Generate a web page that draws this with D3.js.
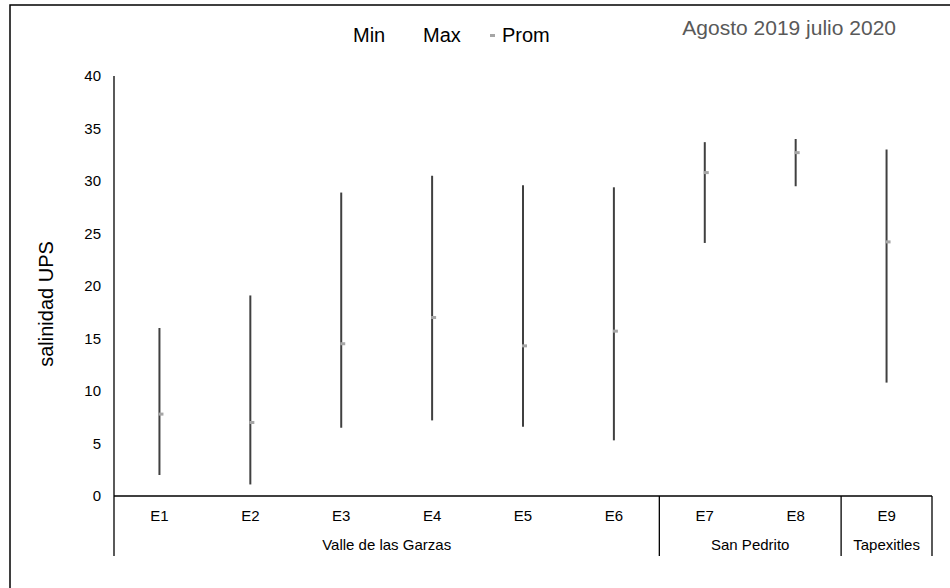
<!DOCTYPE html>
<html>
<head>
<meta charset="utf-8">
<script src="https://cdn.jsdelivr.net/npm/d3@7"></script>
<style>
  body { margin: 0; background: #fff; }
  text { font-family: "Liberation Sans", Arial, sans-serif; }
</style>
</head>
<body>
<script>
// Data
const stations = ["E1", "E2", "E3", "E4", "E5", "E6", "E7", "E8", "E9"];
const groups = ["Valle de las Garzas", "Valle de las Garzas", "Valle de las Garzas",
  "Valle de las Garzas", "Valle de las Garzas", "Valle de las Garzas",
  "San Pedrito", "San Pedrito", "Tapexitles"];
const minVals = [2.0, 1.1, 6.5, 7.2, 6.6, 5.3, 24.1, 29.5, 10.8];
const maxVals = [16.0, 19.1, 28.9, 30.5, 29.6, 29.4, 33.7, 34.0, 33.0];
const promVals = [7.8, 7.0, 14.5, 17.0, 14.3, 15.7, 30.8, 32.7, 24.2];
const yTicks = [0, 5, 10, 15, 20, 25, 30, 35, 40];

const W = 950, H = 588;
const x0 = 114, x1 = 932, yTop = 76, yBottom = 496;

const svg = d3.select("body").append("svg")
    .attr("width", W)
    .attr("height", H);

// outer frame (only left and top visible in the picture)
svg.append("rect")
    .attr("x", 10).attr("y", 5)
    .attr("width", W + 20).attr("height", H + 20)
    .attr("fill", "#fff")
    .attr("stroke", "#000")
    .attr("stroke-width", 1.5);

const x = d3.scaleBand().domain(stations).range([x0, x1]);
const y = d3.scaleLinear().domain([0, 40]).range([yBottom, yTop]);

// y axis
svg.append("line")
    .attr("x1", x0).attr("x2", x0)
    .attr("y1", yTop).attr("y2", yBottom)
    .attr("stroke", "#000").attr("stroke-width", 1.3);

svg.selectAll(".ytick")
    .data(yTicks)
    .enter().append("text")
    .attr("x", 101)
    .attr("y", d => y(d) + 5)
    .attr("text-anchor", "end")
    .attr("font-size", 15)
    .attr("fill", "#000")
    .text(d => d);

svg.append("text")
    .attr("transform", `translate(53,304) rotate(-90)`)
    .attr("text-anchor", "middle")
    .attr("font-size", 20)
    .text("salinidad UPS");

// x axis base line
svg.append("line")
    .attr("x1", x0).attr("x2", x1)
    .attr("y1", yBottom).attr("y2", yBottom)
    .attr("stroke", "#000").attr("stroke-width", 1.3);

// group separators
const groupNames = Array.from(new Set(groups));
const groupSpans = groupNames.map(g => {
  const idx = stations.filter((s, i) => groups[i] === g);
  return { name: g, start: x(idx[0]), end: x(idx[idx.length - 1]) + x.bandwidth() };
});
const seps = [x0].concat(groupSpans.map(g => g.end));
svg.selectAll(".sep")
    .data(seps)
    .enter().append("line")
    .attr("x1", d => d).attr("x2", d => d)
    .attr("y1", yBottom).attr("y2", 556)
    .attr("stroke", "#000").attr("stroke-width", 1.3);

svg.selectAll(".xlab")
    .data(stations)
    .enter().append("text")
    .attr("x", d => x(d) + x.bandwidth() / 2)
    .attr("y", 521)
    .attr("text-anchor", "middle")
    .attr("font-size", 15)
    .text(d => d);

svg.selectAll(".glab")
    .data(groupSpans)
    .enter().append("text")
    .attr("x", d => (d.start + d.end) / 2)
    .attr("y", 550)
    .attr("text-anchor", "middle")
    .attr("font-size", 15)
    .text(d => d.name);

// min-max lines
const cx = d => x(d) + x.bandwidth() / 2;
svg.selectAll(".range")
    .data(stations)
    .enter().append("line")
    .attr("x1", d => cx(d)).attr("x2", d => cx(d))
    .attr("y1", (d, i) => y(minVals[i]))
    .attr("y2", (d, i) => y(maxVals[i]))
    .attr("stroke", "#404040")
    .attr("stroke-width", 2);

// average markers
svg.selectAll(".prom")
    .data(stations)
    .enter().append("rect")
    .attr("x", d => cx(d) - 1)
    .attr("y", (d, i) => y(promVals[i]) - 1.5)
    .attr("width", 5).attr("height", 3)
    .attr("fill", "#a6a6a6");

// legend
const leg = svg.append("g").attr("font-size", 20);
leg.append("text").attr("x", 353).attr("y", 42).text("Min");
leg.append("text").attr("x", 423).attr("y", 42).text("Max");
leg.append("rect").attr("x", 490).attr("y", 34).attr("width", 5).attr("height", 3).attr("fill", "#a6a6a6");
leg.append("text").attr("x", 502).attr("y", 42).text("Prom");

svg.append("text")
    .attr("x", 896).attr("y", 35)
    .attr("text-anchor", "end")
    .attr("font-size", 21)
    .attr("fill", "#595959")
    .text("Agosto 2019 julio 2020");
</script>
</body>
</html>
